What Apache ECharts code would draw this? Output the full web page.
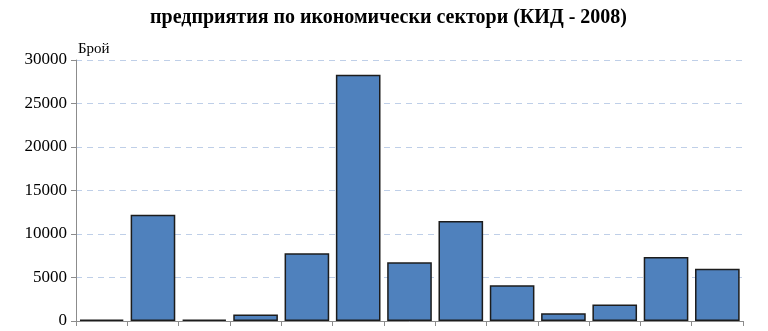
<!DOCTYPE html>
<html><head><meta charset="utf-8">
<script src="https://cdn.jsdelivr.net/npm/echarts@6/dist/echarts.min.js"></script>
<style>html,body{margin:0;padding:0;background:#fff}#c{width:768px;height:331px}</style>
</head><body><div id="c"></div>
<script>
const titleText = 'предприятия по икономически сектори (КИД - 2008)';
const yName = 'Брой';
const categories = ['A','B','C','D','E','F','G','H','I','J','K','L','M'];
const values = [150, 12200, 150, 750, 7800, 28300, 6750, 11500, 4100, 900, 1900, 7350, 6000];
const chart = echarts.init(document.getElementById('c'), null, {renderer:'canvas'});
chart.setOption({
  animation:false,
  title:{text:titleText,left:145,top:3,textStyle:{fontFamily:'Liberation Serif',fontWeight:'bold',fontSize:20,color:'#000'}},
  grid:{left:76,right:25,top:60,bottom:10,containLabel:false},
  xAxis:{type:'category',data:categories,
    axisLine:{lineStyle:{color:'#8c8c8c',width:1}},
    axisTick:{show:true,alignWithLabel:false,length:5,lineStyle:{color:'#8c8c8c'}},
    axisLabel:{show:false}},
  yAxis:{type:'value',min:0,max:30000,interval:5000,
    name:yName,nameLocation:'end',nameGap:3,
    nameTextStyle:{fontFamily:'Liberation Serif',fontSize:15,color:'#000',align:'left',padding:[0,0,0,2]},
    axisLine:{show:true,lineStyle:{color:'#8c8c8c'}},
    axisTick:{show:true,length:5,lineStyle:{color:'#8c8c8c'}},
    axisLabel:{fontFamily:'Liberation Serif',fontSize:17,color:'#000',margin:9,formatter:v=>String(v)},
    splitLine:{show:true,lineStyle:{color:'#bfcfe8',type:[6,5],width:1}}},
  series:[{type:'bar',data:values,barCategoryGap:'13%',
    itemStyle:{color:'#4f81bd',borderColor:'#1c1c1c',borderWidth:1.5}}]
});
</script></body></html>
